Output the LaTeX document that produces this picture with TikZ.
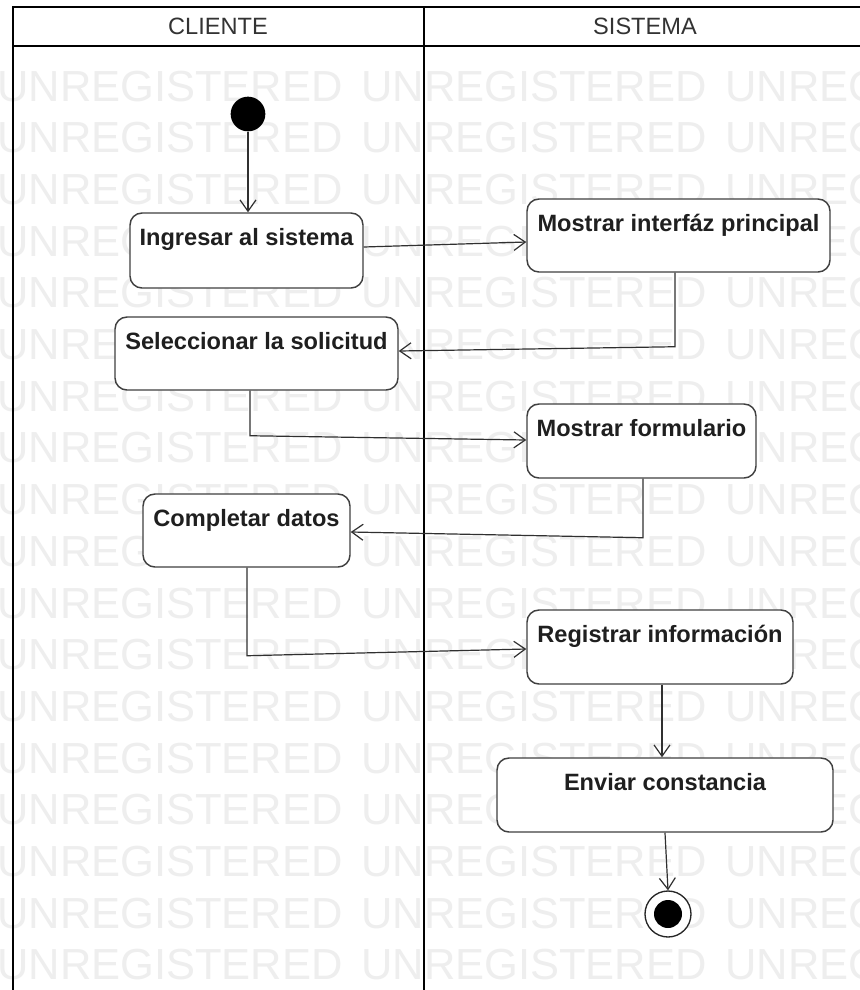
\documentclass[tikz,border=0pt]{standalone}
\usepackage{fontspec}
\setmainfont{Liberation Sans}
\usetikzlibrary{arrows.meta,calc}
\newdimen\pxu \pxu=0.75pt
\definecolor{wm}{gray}{0.935}
\definecolor{edge}{HTML}{303030}
\definecolor{boxline}{HTML}{404040}
% activity text: fixed-size box, label near the top
\newcommand\acttxt[3]{\begin{minipage}[c][#2\pxu][t]{#1\pxu}\centering\rule{0pt}{32\pxu}#3\end{minipage}}
\newcommand\stampword{UNREGISTERED\hspace{14pt}}

\begin{document}
\begin{tikzpicture}[x=0.75pt,y=-0.75pt,
  lane/.style={draw=black,line width=2.2pt},
  act/.style={draw=boxline,fill=white,rounded corners=9pt,line width=1.1pt,inner sep=0pt,
    font=\bfseries\fontsize{17.7}{20}\selectfont,text=black!88},
  flow/.style={draw=edge,line width=0.9pt,-{Straight Barb[length=8.5pt,width=12pt,line width=0.9pt]}},
  watermark/.style={text=wm,font=\fontsize{32.6}{33}\selectfont,anchor=base west,inner sep=0pt},
  lanetitle/.style={font=\fontsize{17.7}{20}\selectfont,text=black!80,anchor=base}
]
\useasboundingbox (0,0) rectangle (860,990);
\fill[white] (0,0) rectangle (860,990);

% background stamp
\foreach \k in {0,...,17}
  \node[watermark] (wm\k) at (-3,{101+51.7*\k}) {\stampword\stampword\stampword};

% swimlanes
\draw[lane,fill=white] (13,7) rectangle (880,46);
\draw[lane] (13,46) -- (13,1000);
\draw[lane] (424,7) -- (424,1000);
\node[lanetitle] (hc) at (218,34) {CLIENTE};
\node[lanetitle] (hs) at (645,34) {SISTEMA};

% initial and final states
\node[circle,fill=black,minimum size=26pt,inner sep=0pt] (ini) at (248,114) {};
\node[circle,draw=black!85,line width=1pt,fill=white,minimum size=34.5pt,inner sep=0pt] (fin) at (668,914) {};
\node[circle,fill=black,minimum size=21pt,inner sep=0pt] (finc) at (fin) {};

% activities
\node[act] (ing) at (246.5,250.5) {\acttxt{233}{75}{Ingresar al sistema}};
\node[act] (mip) at (678.5,235.5) {\acttxt{303}{73}{Mostrar interfáz principal}};
\node[act] (sel) at (256.5,353.5) {\acttxt{283}{73}{Seleccionar la solicitud}};
\node[act] (mfo) at (641.5,441) {\acttxt{229}{74}{Mostrar formulario}};
\node[act] (com) at (246.5,530.5) {\acttxt{207}{73}{Completar datos}};
\node[act] (reg) at (660,647) {\acttxt{266}{74}{Registrar información}};
\node[act] (env) at (665,795) {\acttxt{336}{74}{Enviar constancia}};

% control flows
\draw[flow] (ini) -- (ini |- ing.north);
\draw[flow] ($(ing.east)+(0,-3.5)$) -- ($(mip.west)+(0,6.5)$);
\draw[flow] ($(mip.south)+(-3.5,0)$) -- ++(0,74) -- ($(sel.east)+(0,-2.5)$);
\draw[flow] ($(sel.south)+(-6.5,0)$) -- ++(0,45) -- ($(mfo.west)+(0,-1)$);
\draw[flow] ($(mfo.south)+(1.5,0)$) -- ++(0,59) -- ($(com.east)+(0,1.5)$);
\draw[flow] ($(com.south)+(0.5,0)$) -- ++(0,88) -- ($(reg.west)+(0,2)$);
\draw[flow] ($(reg.south)+(2,0)$) -- ($(env.north)+(-3,0)$);
\draw[flow] (env.south) -- (fin.north);
\end{tikzpicture}
\end{document}
